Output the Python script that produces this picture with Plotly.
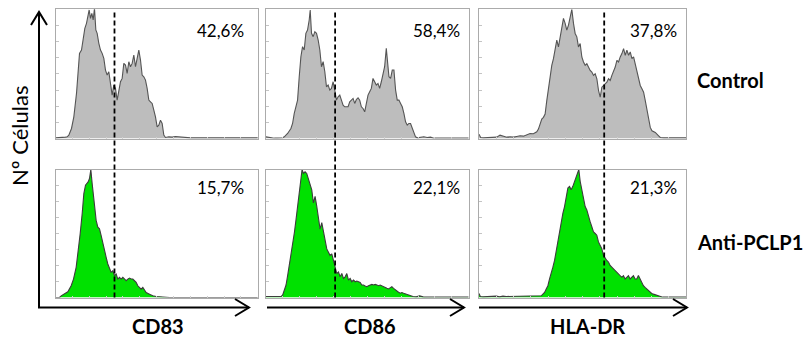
import plotly.graph_objects as go

# ---------------- data ----------------
MARKERS = ["CD83", "CD86", "HLA-DR"]
CONDITIONS = ["Control", "Anti-PCLP1"]
PCT_CONTROL = ["42,6%", "58,4%", "37,8%"]
PCT_ANTI = ["15,7%", "22,1%", "21,3%"]
Y_LABEL = "Nº Células"

# gate position (fluorescence channel) per marker
GATES = [177, 208, 375]

# channel range / count range of each histogram panel
CHANNEL_MAX = [[607, 610, 620], [607, 607, 622]]
COUNT_MAX = [[387, 387, 385], [382, 390, 380]]

# histograms: (channel, count)
CD83_CONTROL = [
    (0, 2), (10, 2), (20, 3), (30, 4), (35, 5), (40, 10), (48, 30), (55, 65), (63, 135), (68, 215),
    (72, 255), (78, 265), (83, 305), (88, 330), (93, 345), (97, 365), (101, 385), (105, 360),
    (109, 375), (113, 355), (117, 390), (121, 325), (125, 315), (130, 285), (135, 265), (140, 255),
    (145, 240), (150, 205), (155, 190), (160, 200), (165, 155), (170, 130), (175, 160), (180, 150),
    (185, 115), (190, 145), (195, 170), (200, 180), (205, 225), (210, 220), (215, 195), (220, 230),
    (225, 215), (230, 225), (235, 250), (240, 215), (245, 240), (250, 265), (255, 235), (260, 190),
    (265, 185), (270, 175), (275, 150), (280, 115), (285, 110), (290, 105), (295, 85), (300, 65),
    (305, 35), (310, 40), (315, 55), (320, 45), (325, 10), (330, 3), (340, 5), (350, 4), (360, 6),
    (370, 5), (380, 4), (390, 3), (405, 2), (435, 2), (485, 2), (535, 2), (607, 2),
]
CD86_CONTROL = [
    (0, 5), (5, 4), (10, 3), (15, 1), (25, 1), (35, 1), (45, 1), (50, 2), (55, 5), (65, 15),
    (75, 30), (80, 45), (85, 75), (90, 95), (95, 115), (100, 185), (105, 245), (110, 275),
    (115, 265), (120, 315), (125, 325), (130, 355), (133, 385), (137, 315), (142, 305), (147, 320),
    (152, 315), (157, 295), (162, 265), (167, 215), (172, 230), (177, 200), (182, 155), (187, 160),
    (192, 145), (197, 150), (202, 170), (207, 145), (212, 115), (217, 125), (222, 130), (227, 115),
    (232, 100), (237, 95), (242, 95), (247, 95), (252, 110), (257, 115), (262, 120), (267, 105),
    (272, 117), (277, 122), (282, 115), (287, 95), (292, 90), (297, 80), (302, 105), (307, 130),
    (312, 140), (317, 150), (322, 180), (327, 170), (332, 160), (337, 165), (342, 150), (347, 170),
    (352, 190), (357, 215), (362, 270), (365, 235), (370, 185), (375, 180), (380, 205), (385, 205),
    (390, 145), (395, 115), (400, 115), (405, 105), (410, 95), (415, 75), (420, 50), (425, 40),
    (430, 45), (435, 45), (440, 30), (445, 15), (450, 5), (455, 2), (465, 4), (475, 5), (485, 3),
    (495, 4), (505, 1), (555, 1), (610, 1),
]
HLADR_CONTROL = [
    (0, 13), (5, 3), (13, 2), (23, 3), (33, 2), (43, 5), (53, 4), (63, 10), (73, 6), (83, 4),
    (93, 5), (103, 4), (113, 6), (123, 8), (133, 7), (143, 12), (153, 15), (163, 14), (173, 20),
    (178, 28), (183, 43), (188, 58), (193, 63), (198, 73), (203, 113), (208, 153), (213, 193),
    (218, 218), (223, 238), (228, 263), (233, 293), (238, 273), (243, 303), (248, 333), (253, 358),
    (258, 343), (263, 323), (268, 338), (273, 363), (278, 385), (283, 343), (288, 313), (293, 303),
    (298, 273), (303, 283), (308, 243), (313, 228), (318, 218), (323, 223), (328, 213), (333, 203),
    (338, 198), (343, 188), (348, 193), (353, 178), (358, 143), (363, 123), (368, 153), (373, 158),
    (378, 163), (383, 168), (388, 178), (393, 173), (398, 188), (403, 198), (408, 213), (413, 233),
    (418, 228), (423, 243), (428, 253), (433, 268), (438, 248), (443, 263), (448, 248), (453, 258),
    (458, 238), (463, 243), (468, 223), (473, 203), (478, 183), (483, 158), (488, 148), (493, 138),
    (498, 113), (503, 83), (508, 53), (513, 33), (518, 23), (528, 18), (538, 8), (543, 3),
    (553, 2), (583, 2), (620, 2),
]
CD83_ANTI = [
    (0, 0), (12, 0), (17, 5), (27, 10), (37, 17), (47, 35), (54, 55), (62, 90), (69, 140),
    (74, 190), (80, 250), (85, 310), (90, 335), (94, 340), (98, 345), (102, 355), (106, 382),
    (110, 340), (114, 305), (118, 270), (122, 230), (127, 210), (132, 205), (137, 185), (142, 160),
    (147, 140), (152, 120), (157, 100), (162, 85), (167, 75), (172, 80), (177, 65), (182, 70),
    (187, 55), (192, 60), (197, 55), (202, 60), (207, 55), (212, 50), (217, 55), (222, 58),
    (227, 55), (232, 55), (237, 50), (242, 45), (247, 35), (252, 30), (257, 25), (262, 30),
    (267, 20), (272, 15), (282, 10), (292, 5), (302, 3), (322, 2), (342, 0), (607, 0),
]
CD86_ANTI = [
    (0, 3), (10, 3), (20, 2), (30, 3), (40, 2), (45, 3), (50, 8), (55, 23), (60, 38), (65, 68),
    (70, 98), (75, 128), (80, 168), (85, 198), (90, 238), (95, 278), (100, 318), (105, 358),
    (108, 390), (112, 378), (117, 383), (122, 378), (127, 363), (132, 348), (137, 328), (142, 288),
    (147, 308), (152, 278), (157, 248), (162, 208), (167, 228), (172, 198), (177, 168), (182, 148),
    (187, 138), (192, 128), (197, 133), (202, 113), (207, 98), (212, 73), (217, 78), (222, 63),
    (227, 73), (232, 58), (237, 63), (242, 73), (247, 53), (252, 58), (257, 48), (262, 53),
    (267, 48), (272, 50), (277, 48), (282, 46), (287, 38), (292, 38), (297, 35), (302, 33),
    (307, 36), (312, 38), (317, 40), (322, 38), (327, 40), (332, 38), (337, 36), (342, 38),
    (347, 35), (352, 33), (357, 30), (362, 28), (367, 26), (372, 30), (377, 33), (382, 28),
    (387, 23), (392, 18), (397, 16), (402, 13), (407, 15), (412, 13), (417, 11), (422, 8),
    (427, 6), (432, 4), (440, 3), (450, 2), (460, 5), (470, 2), (480, 1), (607, 1),
]
HLADR_ANTI = [
    (0, 12), (4, 3), (12, 2), (22, 3), (32, 2), (42, 3), (52, 4), (62, 2), (72, 4), (82, 3),
    (92, 3), (102, 4), (112, 3), (122, 4), (132, 3), (142, 4), (152, 5), (162, 4), (172, 4),
    (182, 5), (187, 5), (192, 10), (197, 15), (202, 25), (207, 35), (212, 55), (217, 70),
    (222, 90), (227, 110), (232, 140), (237, 165), (242, 200), (247, 230), (252, 250), (257, 270),
    (262, 305), (267, 325), (272, 330), (277, 320), (282, 330), (287, 345), (292, 355), (297, 375),
    (300, 380), (304, 345), (309, 320), (314, 290), (319, 270), (324, 260), (329, 240), (334, 225),
    (339, 210), (344, 195), (349, 190), (354, 185), (359, 165), (364, 155), (369, 145), (374, 125),
    (379, 115), (384, 110), (389, 105), (394, 95), (399, 90), (404, 85), (409, 80), (414, 75),
    (419, 72), (424, 65), (429, 60), (434, 65), (439, 55), (444, 60), (449, 65), (454, 55),
    (459, 60), (464, 65), (469, 55), (474, 55), (479, 65), (484, 55), (489, 45), (494, 35),
    (499, 30), (504, 25), (509, 20), (514, 15), (519, 12), (524, 10), (529, 8), (534, 6),
    (539, 4), (544, 2), (552, 1), (622, 1),
]
HISTS = [[CD83_CONTROL, CD86_CONTROL, HLADR_CONTROL], [CD83_ANTI, CD86_ANTI, HLADR_ANTI]]

# ---------------- layout geometry (pixels) ----------------
W, H = 805, 338
COL_X = [(55.5, 257.8), (266.0, 468.7), (479.0, 686.0)]
ROW_Y = [(9.3, 138.5), (169.5, 297.5)]
FILL = ["#bdbdbd", "#00e100"]
LINE = ["#555555", "#3c3c3c"]
FONT = "Lato"


def px(x):
    return x / W


def py(y):
    return 1 - y / H


fig = go.Figure()
layout = dict(
    width=W, height=H, margin=dict(l=0, r=0, t=0, b=0),
    paper_bgcolor="white", plot_bgcolor="white", showlegend=False,
    font=dict(family=FONT, color="black"),
)

for r in range(2):
    for c in range(3):
        idx = r * 3 + c + 1
        sfx = "" if idx == 1 else str(idx)
        data = HISTS[r][c]
        xs = [p[0] for p in data]
        ys = [p[1] for p in data]
        fig.add_trace(go.Scatter(
            x=xs, y=ys, mode="lines", fill="tozeroy",
            fillcolor=FILL[r], line=dict(color=LINE[r], width=1.1),
            xaxis="x" + sfx, yaxis="y" + sfx, hoverinfo="skip",
        ))
        cmax = CHANNEL_MAX[r][c]
        ymax = COUNT_MAX[r][c]
        layout["xaxis" + sfx] = dict(
            domain=[px(COL_X[c][0]), px(COL_X[c][1])], range=[0, cmax],
            anchor="y" + sfx, showgrid=False, zeroline=False, showticklabels=False,
            showline=True, mirror=True, linecolor="#ababab", linewidth=1,
            ticks="inside", ticklen=2, tickcolor="#cfcfcf", dtick=cmax / 12,
        )
        layout["yaxis" + sfx] = dict(
            domain=[py(ROW_Y[r][1]), py(ROW_Y[r][0])], range=[0, ymax],
            anchor="x" + sfx, showgrid=False, zeroline=False, showticklabels=False,
            showline=True, mirror=True, linecolor="#ababab", linewidth=1,
            ticks="inside", ticklen=3, tickcolor="#c4c4c4", dtick=ymax / 8,
        )

fig.update_layout(**layout)

shapes = []
annotations = []

# gate dashed lines through both rows
for c in range(3):
    sfx = "" if c == 0 else str(c + 1)
    shapes.append(dict(
        type="line", xref="x" + sfx, yref="paper",
        x0=GATES[c], x1=GATES[c], y0=py(ROW_Y[1][1]), y1=py(ROW_Y[0][0] + 1),
        line=dict(color="black", width=1.8, dash="5px,3px"),
    ))

# axis arrows
ARROW = dict(color="black", width=2)
shapes.append(dict(type="line", xref="paper", yref="paper",
                   x0=px(39), x1=px(39), y0=py(308), y1=py(12), line=ARROW))
shapes.append(dict(type="path", xref="paper", yref="paper",
                   path=f"M {px(31)},{py(25)} L {px(39)},{py(12)} L {px(47)},{py(25)}",
                   line=ARROW))
H_ARROWS = [(38, 249), (267, 464), (479, 687)]
for x0, x1 in H_ARROWS:
    shapes.append(dict(type="line", xref="paper", yref="paper",
                       x0=px(x0), x1=px(x1), y0=py(307.5), y1=py(307.5), line=ARROW))
    shapes.append(dict(type="path", xref="paper", yref="paper",
                       path=f"M {px(x1 - 14)},{py(299)} L {px(x1)},{py(307.5)} L {px(x1 - 14)},{py(316)}",
                       line=ARROW))

# percentages
PCT_RIGHT = [246, 462, 679]
PCT_Y = [30, 188]
for r, pcts in enumerate([PCT_CONTROL, PCT_ANTI]):
    for c in range(3):
        annotations.append(dict(
            text=pcts[c], xref="paper", yref="paper", x=px(PCT_RIGHT[c]), y=py(PCT_Y[r]),
            xanchor="right", yanchor="middle", showarrow=False,
            font=dict(family=FONT, size=17, color="black"),
        ))

# marker labels under the arrows
LABEL_X = [157.5, 370, 587.5]
for c in range(3):
    annotations.append(dict(
        text="<b>" + MARKERS[c] + "</b>", xref="paper", yref="paper",
        x=px(LABEL_X[c]), y=py(326), xanchor="center", yanchor="middle", showarrow=False,
        font=dict(family=FONT, size=20, color="black"),
    ))

# condition labels
ROW_LABEL_Y = [80, 242]
for r in range(2):
    annotations.append(dict(
        text="<b>" + CONDITIONS[r] + "</b>", xref="paper", yref="paper",
        x=px(695), y=py(ROW_LABEL_Y[r]), xanchor="left", yanchor="middle", showarrow=False,
        font=dict(family=FONT, size=20, color="black"),
    ))

# y label
annotations.append(dict(
    text=Y_LABEL, xref="paper", yref="paper", x=px(19), y=py(136),
    xanchor="center", yanchor="middle", textangle=-90, showarrow=False,
    font=dict(family=FONT, size=22, color="black"),
))

fig.update_layout(shapes=shapes, annotations=annotations)
fig.write_html("out.html")
